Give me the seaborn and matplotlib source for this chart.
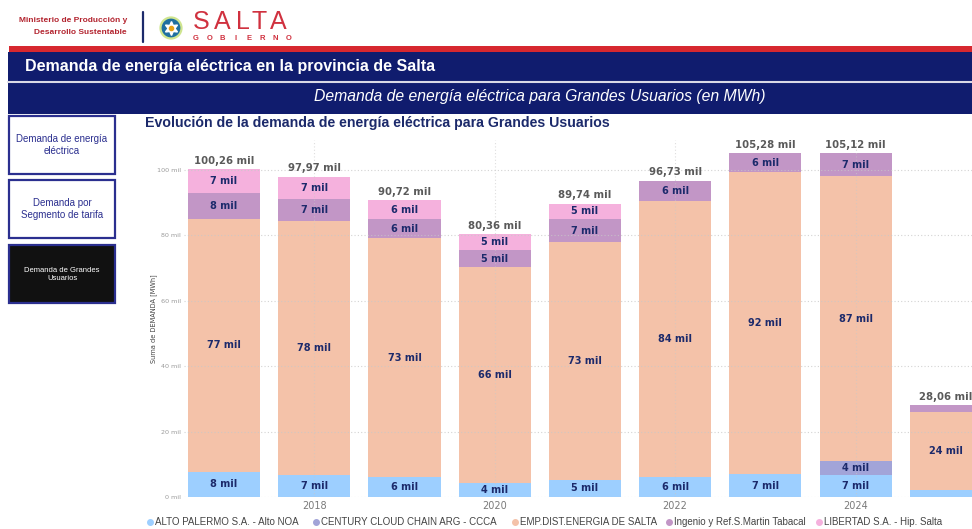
import numpy as np
import pandas as pd
import matplotlib
matplotlib.use("Agg")
import matplotlib.pyplot as plt
from matplotlib.patches import Rectangle, Ellipse
import seaborn as sns

# ---- data (MWh, in thousands) ----
years = [2017, 2018, 2019, 2020, 2021, 2022, 2023, 2024, 2025]
alto_palermo = [7.7, 6.7, 6.1, 4.3, 5.3, 6.2, 6.9, 6.8, 2.1]
century_cloud = [0, 0, 0, 0, 0, 0, 0, 4.1, 0]
emp_dist = [77.4, 77.7, 73.1, 66.0, 72.7, 84.3, 92.4, 87.2, 24.0]
ingenio = [8.0, 6.7, 5.8, 5.2, 7.0, 6.23, 5.98, 7.02, 1.96]
libertad = [7.16, 6.87, 5.72, 4.86, 4.74, 0, 0, 0, 0]

series_names = ["ALTO PALERMO S.A. - Alto NOA", "CENTURY CLOUD CHAIN ARG - CCCA",
                "EMP.DIST.ENERGIA DE SALTA", "Ingenio y Ref.S.Martin Tabacal",
                "LIBERTAD S.A. - Hip. Salta"]
series_values = [alto_palermo, century_cloud, emp_dist, ingenio, libertad]
series_colors = ["#9DCFFF", "#A2A4D8", "#F4C2A9", "#C296C6", "#F5B1DD"]

y_ticks = [0, 20, 40, 60, 80, 100]
x_ticks = [2018, 2020, 2022, 2024]

W, H = 972, 529
sns.set_theme(style="white")
plt.rcParams["font.family"] = ["DejaVu Sans"]
fig = plt.figure(figsize=(W / 100, H / 100), dpi=100)
fig.patch.set_facecolor("white")


def fx(x):
    return x / W


def fy(y):
    return 1 - y / H


def ftext(x, y, s, **kw):
    fig.text(fx(x), fy(y), s, **kw)


def frect(x0, y0, x1, y1, **kw):
    fig.patches.append(Rectangle((fx(x0), fy(y1)), fx(x1) - fx(x0), fy(y0) - fy(y1),
                                 transform=fig.transFigure, figure=fig, **kw))


sans = ["Liberation Sans", "DejaVu Sans"]

# ---- header ----
ftext(127, 21, "Ministerio de Producción y", ha="right", va="center",
      fontsize=6.0, fontweight="bold", color="#B3242F", family=sans)
ftext(127, 32, "Desarrollo Sustentable", ha="right", va="center",
      fontsize=6.0, fontweight="bold", color="#B3242F", family=sans)
fig.add_artist(plt.Line2D([fx(143), fx(143)], [fy(12), fy(42)],
                          color="#1C2A6B", lw=1.6, transform=fig.transFigure))
fig.patches.append(Ellipse((fx(171), fy(28)), 21 / W, 21 / H, transform=fig.transFigure,
                           facecolor="#1F6FA0", edgecolor="#CFE58F", lw=1.6, figure=fig))
fig.add_artist(plt.Line2D([fx(171)], [fy(28)], marker=(6, 1, 0), markersize=10,
                          color="white", transform=fig.transFigure))
fig.add_artist(plt.Line2D([fx(171)], [fy(28)], marker="o", markersize=3,
                          color="#E8A317", transform=fig.transFigure))
for ch, cx in zip("SALTA", [201, 222, 243, 259, 278]):
    ftext(cx, 22, ch, ha="center", va="center", fontsize=18, color="#D0313F",
          family=sans)
for k, ch in enumerate("GOBIERNO"):
    ftext(196 + k * 13.2, 38.5, ch, ha="center", va="center", fontsize=5.5,
          fontweight="bold", color="#D0313F", family=sans)

# red strip and navy banner
frect(9, 46, W, 52, facecolor="#D7282F", edgecolor="none")
frect(8, 52, W, 114, facecolor="#101C6E", edgecolor="none")
fig.add_artist(plt.Line2D([fx(8), fx(W)], [fy(82), fy(82)], color="#D9D9E6",
                          lw=1.5, transform=fig.transFigure))
ftext(25, 67, "Demanda de energía eléctrica en la provincia de Salta", ha="left",
      va="center", fontsize=11.5, fontweight="bold", color="white", family=sans)
ftext(540, 97, "Demanda de energía eléctrica para Grandes Usuarios (en MWh)",
      ha="center", va="center", fontsize=11.3, style="italic", color="white",
      family=sans)

# ---- side navigation ----
nav = [("Demanda de energía\neléctrica", 116, 174, "white", "#2B2F8F", 7),
       ("Demanda por\nSegmento de tarifa", 180, 238, "white", "#2B2F8F", 7),
       ("Demanda de Grandes\nUsuarios", 245, 303, "#111111", "white", 5.5)]
for label, y0, y1, face, tc, fs in nav:
    frect(9, y0, 115, y1, facecolor=face, edgecolor="#2B2F8F", lw=1.6)
    ftext(62, (y0 + y1) / 2, label, ha="center", va="center", fontsize=fs,
          color=tc, linespacing=1.2, family=sans)

# ---- chart ----
ftext(145, 123, "Evolución de la demanda de energía eléctrica para Grandes Usuarios",
      ha="left", va="center", fontsize=10.2, fontweight="bold", color="#1C2A6B",
      family=sans)

ax = fig.add_axes([fx(184), fy(497), fx(W) - fx(184), fy(140) - fy(497)])
ax.set_facecolor("white")

values = np.array(series_values)
cum = np.cumsum(values, axis=0)

# layered cumulative bars, drawn from the top of the stack downward
for i in range(len(series_names) - 1, -1, -1):
    df = pd.DataFrame({"year": years, "cum": cum[i]})
    sns.barplot(data=df, x="year", y="cum", native_scale=True, width=0.8,
                color=series_colors[i], saturation=1, linewidth=0, ax=ax, zorder=2)

ax.set_xlim(2016.557, 2025.29)
ax.set_ylim(0, 109.2)

for yv in y_ticks:
    ax.axhline(yv, color="#C8C8C8", lw=0.8, ls=(0, (1, 2)), zorder=3, alpha=0.8)
for xv in x_ticks:
    ax.axvline(xv, color="#C8C8C8", lw=0.8, ls=(0, (1, 2)), zorder=3, alpha=0.6)

ax.set_yticks(y_ticks)
ax.set_yticklabels([f"{v} mil" for v in y_ticks], fontsize=4.6, color="#9A9A9A")
ax.set_xticks(x_ticks)
ax.set_xticklabels([str(v) for v in x_ticks], fontsize=7, color="#7A7A7A")
ax.tick_params(axis="both", length=0, pad=3)
ax.tick_params(axis="y", pad=2)
ax.set_xlabel("")
ax.set_ylabel("Suma de DEMANDA [MWh]", fontsize=4.8, color="#444444", labelpad=0)
for s in ax.spines.values():
    s.set_visible(False)

# segment labels
for i in range(len(series_names)):
    for j, yr in enumerate(years):
        v = values[i, j]
        if v >= 3:
            ax.text(yr, cum[i, j] - v / 2, f"{round(v)} mil", ha="center", va="center",
                    fontsize=7, fontweight="bold", color="#1C2A6B", zorder=4,
                    clip_on=False)

# total labels
totals = cum[-1]
for yr, t in zip(years, totals):
    ax.text(yr, t + 1.0, f"{t:.2f}".replace(".", ",") + " mil", ha="center",
            va="bottom", fontsize=7.3, fontweight="bold", color="#5A5A5A",
            zorder=4, clip_on=False)

# legend row
legend_x = [150, 316, 515, 669, 819]
for name, col, lx in zip(series_names, series_colors, legend_x):
    fig.add_artist(plt.Line2D([fx(lx)], [fy(522)], marker="o", markersize=4,
                              color=col, transform=fig.transFigure))
    ftext(lx + 5, 522, name, ha="left", va="center", fontsize=7, color="#444444",
          family=sans)

fig.savefig("out.png", dpi=100, facecolor="white")
